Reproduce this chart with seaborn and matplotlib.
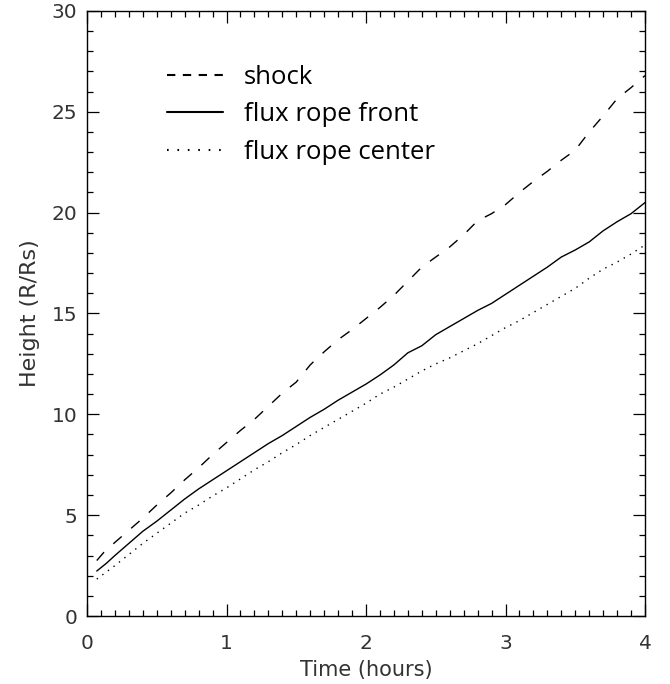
import numpy as np
import pandas as pd
import matplotlib
matplotlib.use("Agg")
import matplotlib.pyplot as plt
from matplotlib.lines import Line2D
import seaborn as sns

time_shock = [0.07, 0.12, 0.2, 0.3, 0.4, 0.5, 0.6, 0.7, 0.8, 0.9, 1.0, 1.1, 1.2, 1.3, 1.4, 1.5,
              1.6, 1.7, 1.8, 1.9, 2.0, 2.1, 2.2, 2.3, 2.4, 2.5, 2.6, 2.7, 2.8, 2.9, 3.0, 3.1,
              3.2, 3.3, 3.4, 3.5, 3.6, 3.7, 3.8, 3.9, 4.0]
shock = [2.75, 3.15, 3.65, 4.25, 4.85, 5.5, 6.1, 6.75, 7.35, 8.0, 8.6, 9.2, 9.75, 10.4, 11.05, 11.6,
         12.45, 13.1, 13.7, 14.2, 14.75, 15.3, 15.9, 16.6, 17.3, 17.8, 18.3, 18.9, 19.6, 19.95, 20.4, 21.0,
         21.55, 22.05, 22.6, 23.1, 24.0, 24.8, 25.65, 26.2, 26.8]

time_front = [0.07, 0.14, 0.2, 0.3, 0.4, 0.5, 0.6, 0.7, 0.8, 0.9, 1.0, 1.1, 1.2, 1.3, 1.4, 1.5,
              1.6, 1.7, 1.8, 1.9, 2.0, 2.1, 2.2, 2.3, 2.4, 2.5, 2.6, 2.7, 2.8, 2.9, 3.0, 3.1,
              3.2, 3.3, 3.4, 3.5, 3.6, 3.7, 3.8, 3.9, 4.0]
front = [2.23, 2.62, 3.0, 3.6, 4.2, 4.7, 5.25, 5.8, 6.3, 6.75, 7.2, 7.65, 8.1, 8.55, 8.95, 9.4,
         9.85, 10.25, 10.7, 11.1, 11.5, 11.95, 12.45, 13.05, 13.4, 13.95, 14.35, 14.75, 15.15, 15.5, 15.95, 16.4,
         16.85, 17.3, 17.8, 18.15, 18.55, 19.1, 19.55, 19.95, 20.5]

time_center = [0.07, 0.2, 0.3, 0.4, 0.5, 0.6, 0.7, 0.8, 0.9, 1.0, 1.1, 1.2, 1.3, 1.4, 1.5,
               1.6, 1.7, 1.8, 1.9, 2.0, 2.1, 2.2, 2.3, 2.4, 2.5, 2.6, 2.7, 2.8, 2.9, 3.0, 3.1,
               3.2, 3.3, 3.4, 3.5, 3.6, 3.7, 3.8, 3.9, 4.0]
center = [1.83, 2.5, 3.05, 3.6, 4.1, 4.6, 5.1, 5.5, 5.95, 6.35, 6.8, 7.25, 7.65, 8.1, 8.5,
          8.95, 9.35, 9.75, 10.15, 10.55, 11.0, 11.35, 11.75, 12.15, 12.5, 12.8, 13.15, 13.5, 13.9, 14.3, 14.65,
          15.05, 15.45, 15.85, 16.25, 16.75, 17.2, 17.55, 17.95, 18.4]

series_labels = ["shock", "flux rope front", "flux rope center"]
x_ticks = [0, 1, 2, 3, 4]
y_ticks = [0, 5, 10, 15, 20, 25, 30]

sns.set_style("white")
plt.rcParams['font.family'] = ['DejaVu Sans']

fig = plt.figure(figsize=(6.7, 6.84), dpi=100)
ax = fig.add_axes([87/670, 1 - 616/684, (645-87)/670, (616-11)/684])

sns.lineplot(x=time_shock, y=shock, ax=ax, color='black', lw=1.0,
             linestyle=(0, (8, 9)), estimator=None, sort=False)
sns.lineplot(x=time_front, y=front, ax=ax, color='black', lw=1.0,
             linestyle='-', estimator=None, sort=False)
sns.lineplot(x=time_center, y=center, ax=ax, color='black', lw=1.0,
             linestyle=(0, (1, 4)), estimator=None, sort=False)

ax.set_xlim(0, 4)
ax.set_ylim(0, 30)
ax.set_xticks(x_ticks)
ax.set_yticks(y_ticks)
ax.set_xticks(np.arange(0, 4.0001, 0.1), minor=True)
ax.set_yticks(np.arange(0, 30.001, 1), minor=True)
ax.set_xticklabels([str(t) for t in x_ticks])
ax.set_yticklabels([str(t) for t in y_ticks])

for s in ax.spines.values():
    s.set_visible(True)
    s.set_color('black')
    s.set_linewidth(1.0)

ax.tick_params(which='both', direction='in', top=True, right=True, bottom=True, left=True,
               color='black', width=0.9)
ax.tick_params(which='major', length=8.5)
ax.tick_params(which='minor', length=4.2)
ax.tick_params(axis='x', which='major', pad=13, labelsize=14.5, labelcolor='#333333')
ax.tick_params(axis='y', which='major', pad=7, labelsize=14.5, labelcolor='#333333')

ax.set_xlabel("Time (hours)", fontsize=15, color='#333333', labelpad=5)
ax.set_ylabel("Height (R/Rs)", fontsize=16, color='#333333', labelpad=8)

handles = [
    Line2D([], [], color='black', lw=1.5, linestyle=(0, (4, 3.6))),
    Line2D([], [], color='black', lw=1.5, linestyle='-'),
    Line2D([], [], color='black', lw=1.5, linestyle=(0, (0.8, 4.2))),
]
leg = ax.legend(handles, series_labels, loc='upper left', bbox_to_anchor=(0.143, 0.911),
                frameon=False, handlelength=2.2, handletextpad=0.8, labelspacing=0.48,
                borderpad=0, borderaxespad=0, labelcolor='black',
                prop={'family': 'Open Sans', 'size': 18.5})

fig.savefig("out.png", dpi=100)
